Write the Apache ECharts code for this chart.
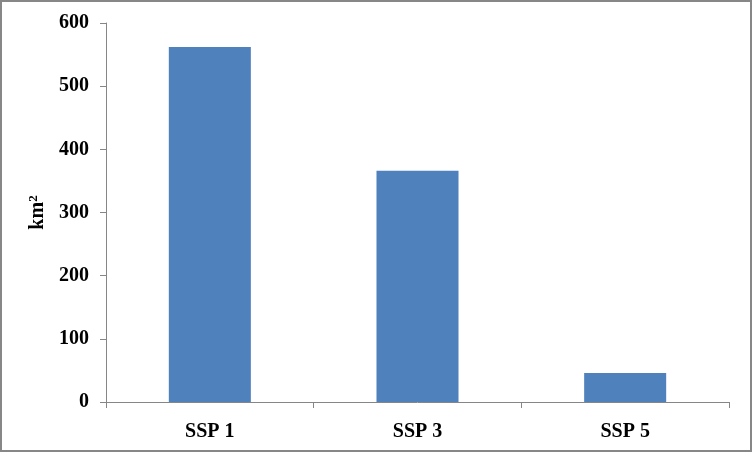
<!DOCTYPE html>
<html>
<head>
<meta charset="utf-8">
<script src="https://cdn.jsdelivr.net/npm/echarts@6/dist/echarts.min.js"></script>
<style>
  html, body { margin: 0; padding: 0; background: #fff; }
  #chart { width: 752px; height: 452px; box-sizing: border-box; border: 2px solid #878787; }
</style>
</head>
<body>
<div id="chart"></div>
<script>
const categories = ['SSP 1', 'SSP 3', 'SSP 5'];
const areaValues = [562, 366, 46];
const yTicks = [0, 100, 200, 300, 400, 500, 600];

const chart = echarts.init(document.getElementById('chart'));
const fontFam = '"Liberation Serif", "Times New Roman", serif';

const option = {
  animation: false,
  grid: { left: 104, right: 21, top: 21, bottom: 48 },
  xAxis: {
    type: 'category',
    data: categories,
    axisLine: { lineStyle: { color: '#868686', width: 1 } },
    axisTick: { show: true, length: 6, alignWithLabel: false, lineStyle: { color: '#868686' } },
    axisLabel: { margin: 20, color: '#000', fontFamily: fontFam, fontWeight: 'bold', fontSize: 20 }
  },
  yAxis: {
    type: 'value',
    min: yTicks[0],
    max: yTicks[yTicks.length - 1],
    interval: 100,
    name: '{b|km}{s|2}',
    nameLocation: 'middle',
    nameGap: 55,
    nameRotate: 90,
    nameTextStyle: {
      color: '#000', fontFamily: fontFam, fontWeight: 'bold', fontSize: 20,
      rich: {
        b: { color: '#000', fontFamily: fontFam, fontWeight: 'bold', fontSize: 20 },
        s: { color: '#000', fontFamily: fontFam, fontWeight: 'bold', fontSize: 13, padding: [0, 0, 9, 0] }
      }
    },
    axisLine: { show: true, lineStyle: { color: '#868686', width: 1 } },
    axisTick: { show: true, length: 6, lineStyle: { color: '#868686' } },
    splitLine: { show: false },
    axisLabel: { margin: 17, color: '#000', fontFamily: fontFam, fontWeight: 'bold', fontSize: 20 }
  },
  series: [{
    type: 'bar',
    data: areaValues,
    barWidth: '39.5%',
    itemStyle: { color: '#4F81BD' }
  }]
};

chart.setOption(option);
</script>
</body>
</html>
